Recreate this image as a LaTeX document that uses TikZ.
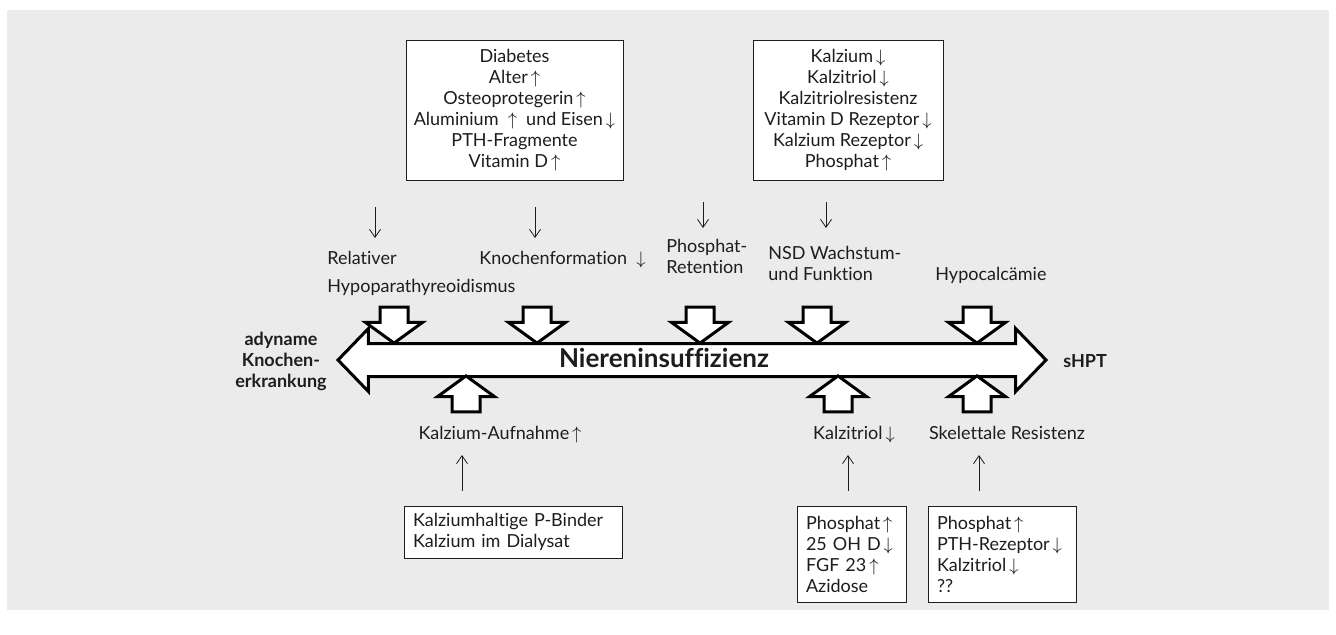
\documentclass[tikz,border=0pt]{standalone}
\usepackage{fontspec}
\setmainfont{Lato}[Ligatures=NoCommon]
\usetikzlibrary{shapes.arrows, arrows.meta}
\definecolor{panelgray}{RGB}{235,235,235}
\definecolor{ink}{RGB}{30,28,28}
\newcommand{\txt}{\fontsize{9}{10.5}\selectfont}
\newcommand{\incr}{\,$\uparrow$}
\newcommand{\decr}{\,$\downarrow$}
\tikzstyle{factors} = [rectangle, draw=ink, line width=0.5pt, fill=white, text=ink, inner sep=0pt, align=center, font=\txt]
\tikzstyle{listbox} = [rectangle, draw=ink, line width=0.5pt, fill=white, text=ink, inner xsep=4.5pt, inner ysep=0pt, align=left, font=\txt]
\tikzstyle{effect} = [inner sep=0pt, text=ink, font=\txt]
\tikzstyle{outcome} = [inner sep=0pt, text=ink, font=\txt\bfseries]
\tikzstyle{push} = [single arrow, draw=black, line width=1.5pt, fill=white, inner xsep=0pt, inner ysep=6.25pt, minimum height=18pt, single arrow head extend=7.25pt, single arrow tip angle=108]
\tikzstyle{bigarrow} = [double arrow, draw=black, line width=1.5pt, fill=white, inner xsep=0pt, inner ysep=7.5pt, minimum height=354pt, double arrow head extend=7.5pt, double arrow tip angle=92]
\tikzstyle{arrow} = [thin, draw=ink, -{Straight Barb[length=4pt,width=5.5pt]}]

\begin{document}
\begin{tikzpicture}[x=0.5pt,y=-0.5pt]
    \useasboundingbox (0,0) rectangle (1336,634);
    \fill [panelgray] (7,10) rectangle (1329,610);

    % factor boxes at the top
    \node (boneside) [factors, minimum width=108.5pt, minimum height=70pt] at (514.5,110) {Diabetes\\Alter\incr\\Osteoprotegerin\incr\\Aluminium \ $\uparrow$ \ und Eisen\decr\\PTH-Fragmente\\Vitamin D\incr};
    \node (glandside) [factors, minimum width=95pt, minimum height=70pt] at (848,110) {Kalzium\decr\\Kalzitriol\decr\\Kalzitriolresistenz\\Vitamin D Rezeptor\decr\\Kalzium Rezeptor\decr\\Phosphat\incr};

    % effects above the axis
    \node (hypopara) [effect, align=left, anchor=north west] at (327,251) {Relativer\\[3.5pt]Hypoparathyreoidismus};
    \node (formation) [effect, anchor=base west] at (479,264) {Knochenformation \ $\downarrow$};
    \node (retention) [effect, align=left, anchor=north west] at (666,239) {Phosphat-\\Retention};
    \node (growth) [effect, align=left, anchor=north west] at (768,246) {NSD Wachstum-\\und Funktion};
    \node (hypocal) [effect, anchor=base west] at (935,280) {Hypocalcämie};

    \coordinate (d1s) at (375,207); \coordinate (d1e) at (375,238);
    \coordinate (d2s) at (535,207); \coordinate (d2e) at (535,238);
    \coordinate (d3s) at (703,202); \coordinate (d3e) at (703,228);
    \coordinate (d4s) at (826,202); \coordinate (d4e) at (826,228);
    \draw [arrow] (d1s) -- (d1e);
    \draw [arrow] (d2s) -- (d2e);
    \draw [arrow] (d3s) -- (d3e);
    \draw [arrow] (d4s) -- (d4e);

    \node (p1) [push, rotate=-90] at (394,320) {};
    \node (p2) [push, rotate=-90] at (537,320) {};
    \node (p3) [push, rotate=-90] at (700,320) {};
    \node (p4) [push, rotate=-90] at (817,320) {};
    \node (p5) [push, rotate=-90] at (977,320) {};

    % the axis
    \node (kidney) [bigarrow] at (692,360) {};
    \node (kidneytext) [outcome, font=\fontsize{13}{15}\selectfont\bfseries, anchor=base] at (664,367) {Niereninsuffizienz};
    \node (adynamic) [outcome, align=center, anchor=north] at (281,332) {adyname\\Knochen-\\erkrankung};
    \node (shpt) [outcome, anchor=base west] at (1063,367) {sHPT};

    % effects below the axis
    \node (q1) [push, rotate=90] at (466,399) {};
    \node (q2) [push, rotate=90] at (838,399) {};
    \node (q3) [push, rotate=90] at (977,399) {};

    \node (uptake) [effect, anchor=base] at (500,439) {Kalzium-Aufnahme\incr};
    \node (calcitriol) [effect, anchor=base] at (854,439) {Kalzitriol\decr};
    \node (resist) [effect, anchor=base] at (1007,439) {Skelettale Resistenz};

    \coordinate (u1s) at (462,491); \coordinate (u1e) at (462,455);
    \coordinate (u2s) at (848,491); \coordinate (u2e) at (848,455);
    \coordinate (u3s) at (979,491); \coordinate (u3e) at (979,455);
    \draw [arrow] (u1s) -- (u1e);
    \draw [arrow] (u2s) -- (u2e);
    \draw [arrow] (u3s) -- (u3e);

    % factor boxes at the bottom
    \node (binder) [listbox, text width=100pt, minimum height=26pt] at (513,532) {Kalziumhaltige P-Binder\\Kalzium im Dialysat};
    \node (vitd) [listbox, text width=45.5pt, minimum height=48pt] at (851.5,554) {Phosphat\incr\\25 OH D\decr\\FGF 23\incr\\Azidose};
    \node (skeleton) [listbox, text width=65pt, minimum height=48pt] at (1002,554) {Phosphat\incr\\PTH-Rezeptor\decr\\Kalzitriol\decr\\??};
\end{tikzpicture}
\end{document}
